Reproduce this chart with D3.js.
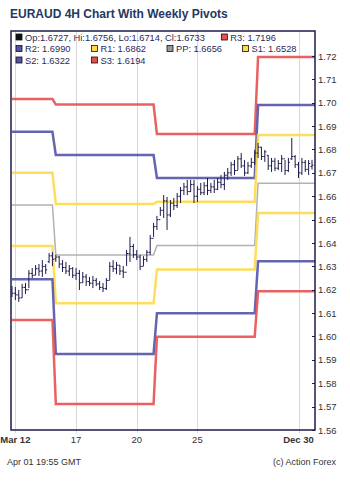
<!DOCTYPE html>
<meta charset="utf-8">
<html>
<head>
<style>
  body { margin: 0; background: #fff; }
  svg text { font-family: "Liberation Sans", Arial, sans-serif; }
</style>
<script src="https://d3js.org/d3.v7.min.js"></script>
</head>
<body>
<svg width="350" height="481"></svg>
<script>
// 4H bars: open, high, low, close
var opens  = [1.6200,1.6185,1.6178,1.6165,1.6210,1.6200,1.6270,1.6262,1.6290,1.6280,1.6300,1.6320,1.6345,
              1.6332,1.6340,1.6310,1.6295,1.6280,1.6290,1.6262,1.6270,1.6230,1.6255,1.6235,1.6228,1.6240,1.6225,1.6210,1.6205,1.6240,1.6300,1.6290,1.6305,1.6280,1.6275,1.6355,1.6385,1.6350,1.6340,1.6300,1.6330,1.6360,1.6420,
              1.6470,1.6500,1.6540,1.6580,1.6520,1.6570,1.6560,1.6600,1.6625,1.6640,1.6620,1.6650,1.6600,1.6630,1.6615,1.6645,1.6625,1.6640,1.6630,1.6660,1.6650,1.6690,1.6700,1.6735,1.6710,1.6760,1.6730,1.6700,1.6730,1.6745,
              1.6785,1.6810,1.6770,1.6775,1.6730,1.6750,1.6720,1.6740,1.6760,1.6710,1.6760,1.6770,1.6735,1.6700,1.6745,1.6715,1.6727];
var highs  = [1.6216,1.6212,1.6199,1.6225,1.6229,1.6284,1.6293,1.6306,1.6310,1.6327,1.6310,1.6357,1.6361,
              1.6349,1.6344,1.6327,1.6319,1.6306,1.6297,1.6293,1.6284,1.6276,1.6267,1.6255,1.6259,1.6250,1.6237,1.6229,1.6250,1.6319,1.6327,1.6319,1.6306,1.6302,1.6370,1.6426,1.6396,1.6370,1.6349,1.6344,1.6370,1.6434,1.6486,
              1.6516,1.6554,1.6605,1.6597,1.6584,1.6593,1.6614,1.6640,1.6657,1.6670,1.6670,1.6670,1.6644,1.6657,1.6661,1.6678,1.6657,1.6670,1.6678,1.6691,1.6704,1.6721,1.6747,1.6755,1.6772,1.6785,1.6755,1.6747,1.6764,1.6798,
              1.6828,1.6811,1.6798,1.6776,1.6764,1.6764,1.6755,1.6776,1.6755,1.6764,1.6849,1.6776,1.6747,1.6764,1.6755,1.6755,1.6756];
var lows   = [1.6169,1.6156,1.6148,1.6165,1.6182,1.6207,1.6250,1.6263,1.6259,1.6255,1.6267,1.6314,1.6301,
              1.6319,1.6293,1.6276,1.6267,1.6259,1.6250,1.6242,1.6199,1.6229,1.6216,1.6216,1.6207,1.6216,1.6199,1.6190,1.6199,1.6242,1.6276,1.6267,1.6263,1.6250,1.6302,1.6319,1.6336,1.6327,1.6284,1.6302,1.6319,1.6349,1.6426,
              1.6456,1.6516,1.6507,1.6456,1.6511,1.6541,1.6550,1.6571,1.6605,1.6605,1.6618,1.6571,1.6575,1.6605,1.6605,1.6605,1.6614,1.6614,1.6627,1.6635,1.6627,1.6670,1.6687,1.6691,1.6712,1.6721,1.6687,1.6695,1.6721,1.6734,
              1.6764,1.6755,1.6747,1.6712,1.6704,1.6708,1.6712,1.6704,1.6691,1.6704,1.6755,1.6721,1.6678,1.6691,1.6704,1.6691,1.6714];
var closes = [1.6185,1.6178,1.6165,1.6210,1.6200,1.6270,1.6262,1.6290,1.6280,1.6300,1.6285,1.6345,1.6330,
              1.6340,1.6310,1.6295,1.6280,1.6290,1.6262,1.6270,1.6230,1.6255,1.6235,1.6228,1.6240,1.6225,1.6210,1.6205,1.6240,1.6300,1.6290,1.6305,1.6280,1.6275,1.6355,1.6385,1.6350,1.6340,1.6300,1.6330,1.6360,1.6420,1.6470,
              1.6500,1.6540,1.6580,1.6520,1.6570,1.6560,1.6600,1.6625,1.6640,1.6620,1.6650,1.6600,1.6630,1.6615,1.6645,1.6625,1.6640,1.6630,1.6660,1.6650,1.6690,1.6700,1.6735,1.6710,1.6760,1.6730,1.6700,1.6730,1.6745,1.6785,
              1.6810,1.6770,1.6790,1.6730,1.6750,1.6720,1.6740,1.6760,1.6710,1.6745,1.6770,1.6735,1.6700,1.6745,1.6715,1.6740,1.6733];

// weekly pivot levels, one value per week; weekStart = first bar of each week
var weekStart = [0, 13, 43, 73];
var R3 = [1.7016, 1.6993, 1.6866, 1.7196];
var R2 = [1.6876, 1.6776, 1.6678, 1.6990];
var R1 = [1.6701, 1.6567, 1.6576, 1.6862];
var PP = [1.6563, 1.6349, 1.6389, 1.6656];
var S1 = [1.6387, 1.6142, 1.6287, 1.6528];
var S2 = [1.6245, 1.5925, 1.6099, 1.6322];
var S3 = [1.6071, 1.5711, 1.5999, 1.6194];

// x axis labels at bar index
var tickBars   = [1, 19, 37, 55, 85];
var tickLabels = ["Mar 12", "17", "20", "25", "Dec 30"];
var yTicks = d3.range(1.56, 1.7201, 0.01);

var svg = d3.select("svg");
var pLeft = 11, pRight = 315, pTop = 31, pBottom = 430;

var x = d3.scaleLinear().domain([0, 89]).range([12, 312]);
var y = d3.scaleLinear().domain([1.56, 1.72]).range([pBottom, 56]);

var navy = "#1c1c4c";

svg.append("text").attr("x", 10).attr("y", 18)
  .attr("font-size", "12px").attr("font-weight", "bold").attr("fill", "#243763")
  .text("EURAUD 4H Chart With Weekly Pivots");

svg.append("defs").append("clipPath").attr("id", "clip")
  .append("rect").attr("x", pLeft).attr("y", pTop).attr("width", pRight - pLeft).attr("height", pBottom - pTop);

// vertical gridlines
svg.append("g").selectAll("line").data(tickBars).enter().append("line")
  .attr("x1", function(d) { return Math.round(x(d)) + 0.5; }).attr("x2", function(d) { return Math.round(x(d)) + 0.5; })
  .attr("y1", pTop).attr("y2", pBottom + 3)
  .attr("stroke", "#d8d8d8").attr("stroke-width", 1);

svg.append("g").selectAll("text").data(tickBars).enter().append("text")
  .attr("x", function(d) { return x(d); }).attr("y", 443)
  .attr("text-anchor", "middle").attr("font-size", "9.5px").attr("fill", "#333")
  .attr("font-weight", function(d, i) { return (i == 0 || i == tickBars.length - 1) ? "bold" : "normal"; })
  .text(function(d, i) { return tickLabels[i]; });

// pivot step lines
var levels = [
  {id: "R3", vals: R3, color: "#e85050"},
  {id: "R2", vals: R2, color: "#5353a8"},
  {id: "R1", vals: R1, color: "#ffd94a"},
  {id: "PP", vals: PP, color: "#aaaaaa"},
  {id: "S1", vals: S1, color: "#ffd94a"},
  {id: "S2", vals: S2, color: "#5353a8"},
  {id: "S3", vals: S3, color: "#e85050"}
];

function weekOf(i) {
  var w = 0;
  weekStart.forEach(function(s, k) { if (i >= s) w = k; });
  return w;
}

var line = d3.line().x(function(d) { return x(d.i); }).y(function(d) { return y(d.v); });
var g = svg.append("g").attr("clip-path", "url(#clip)");

levels.forEach(function(l) {
  var pts = d3.range(0, 91).map(function(i) { return {i: i, v: l.vals[weekOf(Math.min(i, 89))]}; });
  g.append("path").datum(pts)
    .attr("d", line).attr("fill", "none")
    .attr("stroke", l.color).attr("stroke-width", l.id == "PP" ? 1.5 : 2.5)
    .attr("stroke-opacity", 0.9);
});

// OHLC bars
var bars = g.selectAll(".bar").data(opens).enter().append("g").attr("class", "bar")
  .attr("stroke", navy).attr("stroke-width", 1);
bars.append("line")
  .attr("x1", function(d, i) { return x(i); }).attr("x2", function(d, i) { return x(i); })
  .attr("y1", function(d, i) { return y(highs[i]); }).attr("y2", function(d, i) { return y(lows[i]); });
bars.append("line")
  .attr("x1", function(d, i) { return x(i) - 1.5; }).attr("x2", function(d, i) { return x(i); })
  .attr("y1", function(d, i) { return y(opens[i]); }).attr("y2", function(d, i) { return y(opens[i]); });
bars.append("line")
  .attr("x1", function(d, i) { return x(i); }).attr("x2", function(d, i) { return x(i) + 1.5; })
  .attr("y1", function(d, i) { return y(closes[i]); }).attr("y2", function(d, i) { return y(closes[i]); });

// right axis
var ax = svg.append("g");
ax.selectAll("line").data(yTicks).enter().append("line")
  .attr("x1", pRight - 3).attr("x2", pRight)
  .attr("y1", function(d) { return Math.round(y(d)) + 0.5; }).attr("y2", function(d) { return Math.round(y(d)) + 0.5; })
  .attr("stroke", navy);
ax.selectAll("text").data(yTicks).enter().append("text")
  .attr("x", pRight + 3).attr("y", function(d) { return y(d) + 3.5; })
  .attr("font-size", "9.5px").attr("fill", "#333")
  .text(function(d) { return d3.format(".2f")(d); });

// frame
svg.append("rect").attr("x", pLeft).attr("y", pTop).attr("width", pRight - pLeft).attr("height", pBottom - pTop)
  .attr("fill", "none").attr("stroke", navy).attr("stroke-width", 1.5);

// legend
var last = opens.length - 1;
var legend = [
  {row: 0, col: 0, color: "#111", text: "Op:" + opens[last].toFixed(4) + ", Hi:" + highs[last].toFixed(4) + ", Lo:" + lows[last].toFixed(4) + ", Cl:" + closes[last].toFixed(4)},
  {row: 0, col: 2.72, color: "#e85050", text: "R3: " + R3[3].toFixed(4)},
  {row: 1, col: 0, color: "#5353a8", text: "R2: " + R2[3].toFixed(4)},
  {row: 1, col: 1, color: "#ffd94a", text: "R1: " + R1[3].toFixed(4)},
  {row: 1, col: 2, color: "#999", text: "PP: " + PP[3].toFixed(4)},
  {row: 1, col: 3, color: "#ffd94a", text: "S1: " + S1[3].toFixed(4)},
  {row: 2, col: 0, color: "#5353a8", text: "S2: " + S2[3].toFixed(4)},
  {row: 2, col: 1, color: "#e85050", text: "S3: " + S3[3].toFixed(4)}
];
var lg = svg.append("g").selectAll("g").data(legend).enter().append("g")
  .attr("transform", function(d) { return "translate(" + (16 + d.col * 75.5) + "," + (34 + d.row * 11.5) + ")"; });
lg.append("rect").attr("width", 6).attr("height", 6)
  .attr("fill", function(d) { return d.color; }).attr("stroke", "#111").attr("stroke-width", 0.8);
lg.append("text").attr("x", 9).attr("y", 6.5).attr("font-size", "9.3px").attr("fill", "#2a2a5a")
  .text(function(d) { return d.text; });

// footer
svg.append("text").attr("x", 7).attr("y", 465).attr("font-size", "9px").attr("fill", "#333")
  .text("Apr 01 19:55 GMT");
svg.append("text").attr("x", 336).attr("y", 465).attr("text-anchor", "end").attr("font-size", "9px").attr("fill", "#333")
  .text("(c) Action Forex");
</script>
</body>
</html>
